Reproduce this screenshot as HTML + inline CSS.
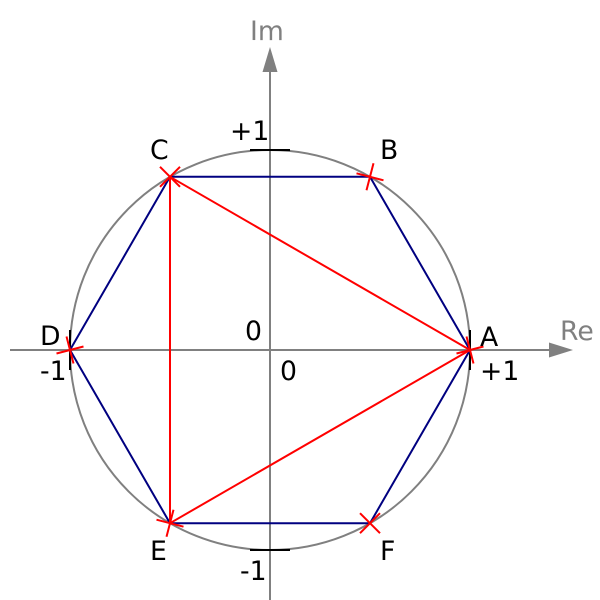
<!DOCTYPE html>
<html>
<head>
<meta charset="utf-8">
<style>
html,body{margin:0;padding:0;background:#fff;width:600px;height:600px;overflow:hidden}
svg{display:block}
text{font-family:"DejaVu Sans",sans-serif;font-size:26.67px;fill:#000}
text.g{fill:#808080}
</style>
</head>
<body>
<svg width="600" height="600" viewBox="0 0 600 600" xmlns="http://www.w3.org/2000/svg">
<circle cx="270" cy="350" r="200" fill="none" stroke="#808080" stroke-width="2"/>
<path d="M10 350H550M270 600V71" fill="none" stroke="#808080" stroke-width="2"/>
<path d="M573 350L549 342.5V357.5ZM270 47L262.500 72H277.500Z" fill="#808080"/>
<path d="M470 330V370M70 330V370M250 150H290M250 550H290" fill="none" stroke="#000" stroke-width="2"/>
<path d="M470 350L370 176.800H170L70 350L170 523.200H370Z" fill="none" stroke="#000080" stroke-width="2"/>
<path d="M470 350L170 176.800V523.200Z" fill="none" stroke="#ff0000" stroke-width="2"/>
<g fill="none" stroke="#ff0000" stroke-width="2">
<path d="M456.500 353.500L483.500 346.500M466.500 336.500L473.500 363.500"/>
<path d="M356.500 173.300L383.500 180.300M373.500 163.300L366.500 190.300"/>
<path d="M160 166.800L180 186.800M180 166.800L160 186.800"/>
<path d="M56.500 353.500L83.500 346.500M66.500 336.500L73.500 363.500"/>
<path d="M156.500 519.700L183.500 526.700M173.500 509.700L166.500 536.700"/>
<path d="M360 513.200L380 533.200M380 513.200L360 533.200"/>
</g>
<text class="g" x="250" y="40">Im</text>
<text class="g" x="560" y="340">Re</text>
<text x="480" y="346">A</text>
<text x="380" y="159">B</text>
<text x="150" y="159">C</text>
<text x="40" y="345">D</text>
<text x="150" y="560">E</text>
<text x="380" y="560">F</text>
<text x="230" y="140">+1</text>
<text x="480" y="380">+1</text>
<text x="40" y="380">-1</text>
<text x="240" y="580">-1</text>
<text x="245" y="340">0</text>
<text x="280" y="380">0</text>
</svg>
</body>
</html>
